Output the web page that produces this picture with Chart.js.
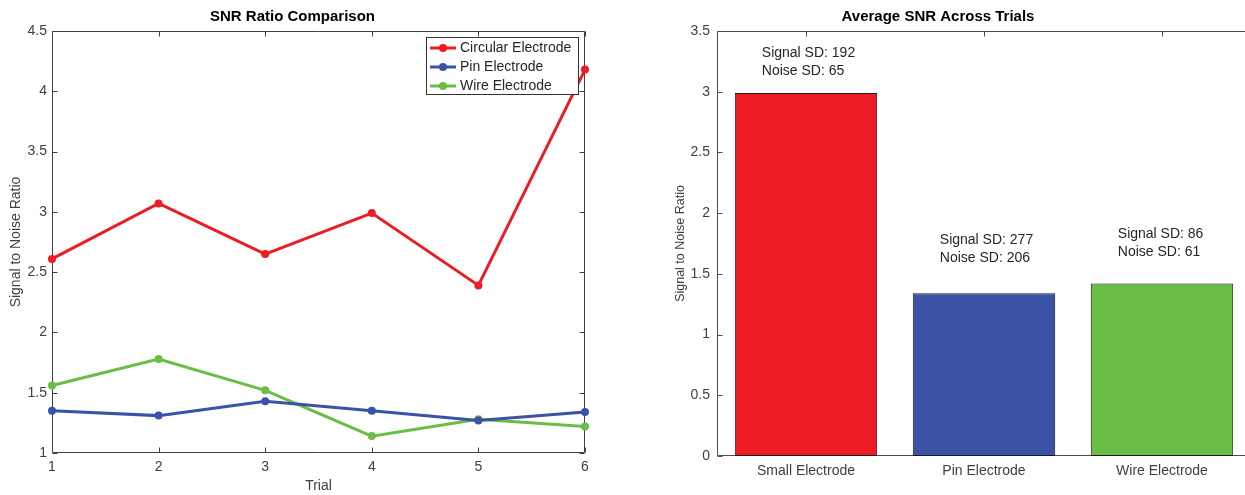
<!DOCTYPE html>
<html>
<head>
<meta charset="utf-8">
<script src="https://cdn.jsdelivr.net/npm/chart.js@4.4.0/dist/chart.umd.min.js"></script>
<style>
  html, body { margin: 0; padding: 0; background: #fff; overflow: hidden; }
  #wrap { position: relative; width: 1245px; height: 495px; overflow: hidden; background: #fff; }
  #snrLines { position: absolute; left: 0; top: 0; }
  #snrBars { position: absolute; left: 625px; top: 0; }
</style>
</head>
<body>
<div id="wrap">
  <canvas id="snrLines" width="620" height="495"></canvas>
  <canvas id="snrBars" width="640" height="495"></canvas>
</div>
<script>
// ---- Per-trial SNR ----
const trials = ['1', '2', '3', '4', '5', '6'];
const circularSNR = [2.61, 3.07, 2.65, 2.99, 2.39, 4.18];
const pinSNR      = [1.35, 1.31, 1.43, 1.35, 1.27, 1.34];
const wireSNR     = [1.56, 1.78, 1.52, 1.14, 1.28, 1.22];
const trialYTicks = [1, 1.5, 2, 2.5, 3, 3.5, 4, 4.5];

// ---- Average SNR per electrode ----
const electrodes = ['Small Electrode', 'Pin Electrode', 'Wire Electrode'];
const averageSNR = [2.99, 1.34, 1.42];
const signalSD   = [192, 277, 86];
const noiseSD    = [65, 206, 61];
const averageYTicks = [0, 0.5, 1, 1.5, 2, 2.5, 3, 3.5];

// height (in SNR units) of the first line of each SD note
const noteLevel = [3.32, 1.78, 1.83];

const RED = '#ED1C24', BLUE = '#3A53A4', GREEN = '#6ABD45';
const FONT = '"Liberation Sans", Arial, Helvetica, sans-serif';

Chart.defaults.font.family = FONT;
Chart.defaults.color = '#404040';

// Boxed axes with inward tick marks
const boxAxes = {
  id: 'boxAxes',
  beforeDatasetsDraw(chart, args, o) {
    const { ctx, chartArea: a, scales: { x, y } } = chart;
    const L = Math.round(a.left) + 0.5, R = Math.round(a.right) - 0.5;
    const T = Math.round(a.top) + 0.5, B = Math.round(a.bottom) - 0.5;
    ctx.save();
    ctx.lineWidth = 1;
    ctx.strokeStyle = o.color;
    ctx.beginPath();
    ctx.moveTo(L, B); ctx.lineTo(L, T); ctx.lineTo(R, T);
    if (o.right) ctx.lineTo(R, B);
    ctx.moveTo(L, B); ctx.lineTo(R, B);
    x.ticks.forEach((t, i) => {
      const px = Math.round(x.getPixelForTick(i)) + 0.5;
      ctx.moveTo(px, B); ctx.lineTo(px, B - o.len);
      ctx.moveTo(px, T); ctx.lineTo(px, T + o.len);
    });
    y.ticks.forEach((t, i) => {
      const py = Math.round(y.getPixelForTick(i)) + 0.5;
      ctx.moveTo(L, py); ctx.lineTo(L + o.len, py);
      if (o.right) { ctx.moveTo(R, py); ctx.lineTo(R - o.len, py); }
    });
    ctx.stroke();
    ctx.restore();
  }
};

// Legend drawn inside the plot's upper-right corner
const insetLegend = {
  id: 'insetLegend',
  afterDatasetsDraw(chart, args, o) {
    const { ctx, chartArea: a } = chart;
    const x0 = Math.round(a.right - o.marginRight - o.width);
    const y0 = Math.round(a.top + o.marginTop);
    ctx.save();
    ctx.fillStyle = '#fff';
    ctx.fillRect(x0, y0, o.width, o.height);
    ctx.strokeStyle = o.borderColor;
    ctx.lineWidth = 1;
    ctx.strokeRect(x0 + 0.5, y0 + 0.5, o.width - 1, o.height - 1);
    ctx.font = o.font;
    ctx.textBaseline = 'middle';
    ctx.textAlign = 'left';
    chart.data.datasets.forEach((ds, i) => {
      const cy = y0 + o.firstRow + i * o.rowGap;
      ctx.strokeStyle = ds.borderColor;
      ctx.lineWidth = 3;
      ctx.beginPath();
      ctx.moveTo(x0 + 4, cy); ctx.lineTo(x0 + 30, cy);
      ctx.stroke();
      ctx.fillStyle = ds.borderColor;
      ctx.beginPath();
      ctx.arc(x0 + 17, cy, 4, 0, Math.PI * 2);
      ctx.fill();
      ctx.fillStyle = o.textColor;
      ctx.fillText(ds.label, x0 + 34, cy + 0.5);
    });
    ctx.restore();
  }
};

// Two-line SD notes above each bar
const sdNotes = {
  id: 'sdNotes',
  afterDatasetsDraw(chart, args, o) {
    const { ctx, scales: { y } } = chart;
    const bars = chart.getDatasetMeta(0).data;
    ctx.save();
    ctx.font = o.font;
    ctx.fillStyle = o.color;
    ctx.textAlign = 'left';
    ctx.textBaseline = 'middle';
    bars.forEach((bar, i) => {
      const left = bar.x - bar.width / 2 + o.inset;
      const py = y.getPixelForValue(noteLevel[i]);
      ctx.fillText('Signal SD: ' + signalSD[i], left, py);
      ctx.fillText('Noise SD: ' + noiseSD[i], left, py + o.lineGap);
    });
    ctx.restore();
  }
};

const fixedTicks = values => scale => {
  scale.ticks = values.map(v => ({ value: v }));
};
const plainNumber = v => String(v);

// ---- Line chart: SNR per trial ----
new Chart(document.getElementById('snrLines'), {
  type: 'line',
  data: {
    labels: trials,
    datasets: [
      { label: 'Circular Electrode', data: circularSNR, borderColor: RED, backgroundColor: RED },
      { label: 'Pin Electrode', data: pinSNR, borderColor: BLUE, backgroundColor: BLUE },
      { label: 'Wire Electrode', data: wireSNR, borderColor: GREEN, backgroundColor: GREEN }
    ]
  },
  options: {
    responsive: false,
    animation: false,
    layout: { padding: { left: 0, right: 35, top: 0, bottom: 0 } },
    elements: {
      line: { borderWidth: 3, tension: 0 },
      point: { radius: 4, hoverRadius: 4, borderWidth: 0 }
    },
    datasets: { line: { clip: false } },
    plugins: {
      legend: { display: false },
      tooltip: { enabled: false },
      title: {
        display: true, text: 'SNR Ratio Comparison', color: '#000',
        font: { size: 15, weight: 'bold' }, padding: { top: 7.5, bottom: 5.5 }
      },
      boxAxes: { color: '#404040', len: 5, right: true },
      insetLegend: {
        width: 153, height: 58, marginRight: 6, marginTop: 6,
        firstRow: 11, rowGap: 19, borderColor: '#333',
        textColor: '#262626', font: '14px ' + FONT
      }
    },
    scales: {
      x: {
        type: 'category', offset: false,
        grid: { display: false, drawTicks: false },
        border: { display: false },
        ticks: { padding: 6, font: { size: 14 }, maxRotation: 0 },
        title: { display: true, text: 'Trial', font: { size: 14 }, padding: { top: 0, bottom: 0 } },
        afterFit(s) { s.height = 42; }
      },
      y: {
        min: 1, max: 4.5,
        afterBuildTicks: fixedTicks(trialYTicks),
        grid: { display: false, drawTicks: false },
        border: { display: false },
        ticks: { padding: 5, font: { size: 14 }, callback: plainNumber },
        title: { display: true, text: 'Signal to Noise Ratio', font: { size: 14 }, padding: { top: 8, bottom: 0 } },
        afterFit(s) { s.width = 52; }
      }
    }
  },
  plugins: [boxAxes, insetLegend]
});

// ---- Bar chart: average SNR ----
new Chart(document.getElementById('snrBars'), {
  type: 'bar',
  data: {
    labels: electrodes,
    datasets: [{
      label: 'Average SNR',
      data: averageSNR,
      backgroundColor: [RED, BLUE, GREEN],
      borderColor: '#1a1a1a',
      borderWidth: 1,
      borderSkipped: false,
      barPercentage: 0.8,
      categoryPercentage: 1
    }]
  },
  options: {
    responsive: false,
    animation: false,
    layout: { padding: { left: 0, right: 14, top: 0, bottom: 0 } },
    plugins: {
      legend: { display: false },
      tooltip: { enabled: false },
      title: {
        display: true, text: 'Average SNR Across Trials', color: '#000',
        font: { size: 15, weight: 'bold' }, padding: { top: 7.5, bottom: 5.5 }
      },
      boxAxes: { color: '#4d4d4d', len: 5, right: true },
      sdNotes: { font: '14px ' + FONT, color: '#262626', inset: 27, lineGap: 18.5 }
    },
    scales: {
      x: {
        grid: { display: false, drawTicks: false },
        border: { display: false },
        ticks: { padding: 7, font: { size: 14 }, maxRotation: 0 },
        afterFit(s) { s.height = 39; }
      },
      y: {
        min: 0, max: 3.5,
        afterBuildTicks: fixedTicks(averageYTicks),
        grid: { display: false, drawTicks: false },
        border: { display: false },
        ticks: { padding: 7, font: { size: 14 }, callback: plainNumber },
        title: { display: true, text: 'Signal to Noise Ratio', font: { size: 12.5 }, padding: { top: 48, bottom: 0 } },
        afterFit(s) { s.width = 92; }
      }
    }
  },
  plugins: [boxAxes, sdNotes]
});
</script>
</body>
</html>
